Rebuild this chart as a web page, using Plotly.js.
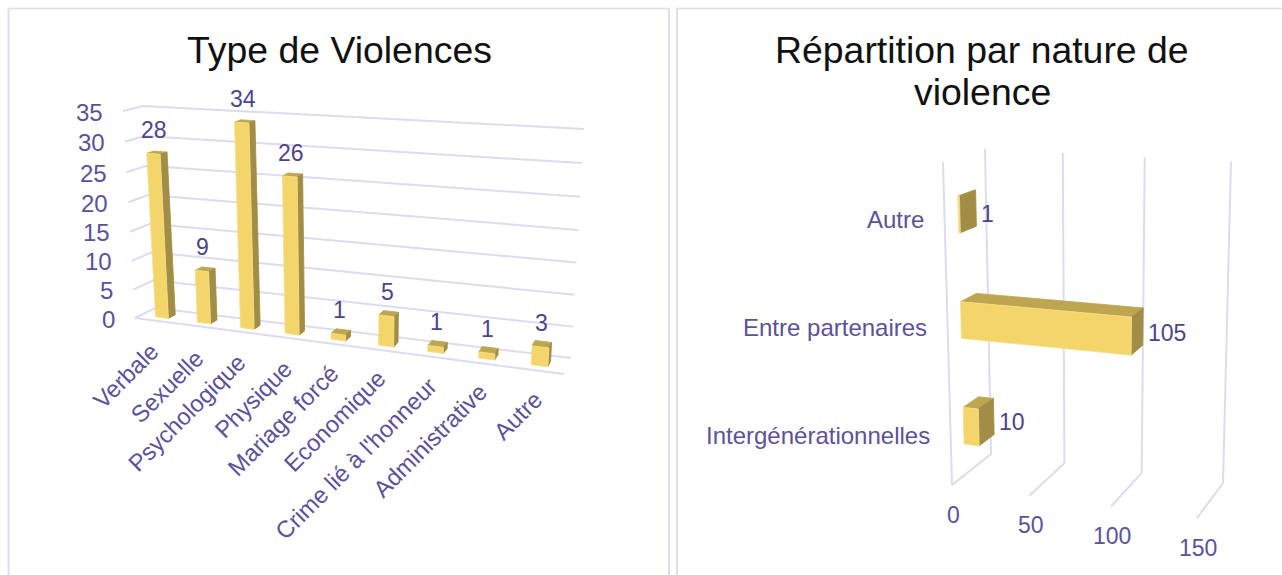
<!DOCTYPE html>
<html>
<head>
<meta charset="utf-8">
<script src="https://cdn.plot.ly/plotly-3.0.1.min.js"></script>
<style>html,body{margin:0;padding:0;background:#fff;overflow:hidden}#chart{width:1282px;height:575px}</style>
</head>
<body>
<div id="chart"></div>
<script>
// ---- data ----
const violenceTitle = "Type de Violences";
const violenceCategories = ["Verbale","Sexuelle","Psychologique","Physique","Mariage forcé","Economique","Crime lié à l'honneur","Administrative","Autre"];
const violenceValues = [28,9,34,26,1,5,1,1,3];
const violenceTicks = [0,5,10,15,20,25,30,35];
const violenceMax = 35;

const natureTitleLines = ["Répartition par nature de","violence"];
const natureCategories = ["Intergénérationnelles","Entre partenaires","Autre"];
const natureValues = [10,105,1];
const natureTicks = [0,50,100,150];
const natureMax = 150;

// ---- style ----
const GRID = "#DDDBEF", TICK = "#5B5299", LABEL = "#4C4489", TITLE = "#111111";
const FRONT = "#F4D569", SIDE = "#A18D46", TOP = "#BEA650";
const FONT = "Liberation Sans, Arial, sans-serif";

// ---- perspective boxes: a = along the value/category run, h = height, d = depth ----
function box(c){ return function(a,h0,d){
  const ta = a/(a + c.k*(1-a));
  const h = h0/(h0 + c.hk*(1-h0));
  const mix=(p,q,t)=>[p[0]+(q[0]-p[0])*t,p[1]+(q[1]-p[1])*t];
  const f=mix(mix(c.f00,c.f10,ta),mix(c.f01,c.f11,ta),h);
  const b=mix(mix(c.b00,c.b10,ta),mix(c.b01,c.b11,ta),h);
  return mix(f,b,d);
};}
// first digit index: a (0 left,1 right); second: h (0 floor,1 top)
const boxLeft = box({k:1.16,hk:1.05,
  f00:[135,318],f10:[564,374],f01:[123,111],f11:[577,140],
  b00:[155,308],b10:[571,358],b01:[143,106],b11:[584,129]});
const boxRight = box({k:1.08,hk:1,
  f00:[952,485],f10:[1197,518],f01:[943,162],f11:[1207,178],
  b00:[991,454],b10:[1223,483],b01:[985,149],b11:[1231,162]});

function poly(list){ const xs=[],ys=[];
  list.forEach(pts=>{pts.forEach(p=>{xs.push(p[0]);ys.push(p[1]);});xs.push(pts[0][0]);ys.push(pts[0][1]);xs.push(null);ys.push(null);});
  return [xs,ys]; }
function faceTrace(name,list,color,edge){ const [x,y]=poly(list);
  return {type:"scatter",mode:"lines",name,x,y,fill:"toself",fillcolor:color,line:{color:edge,width:0.8},hoverinfo:"skip"}; }
function lineTrace(name,list){ const xs=[],ys=[];
  list.forEach(pts=>{pts.forEach(p=>{xs.push(p[0]);ys.push(p[1]);});xs.push(null);ys.push(null);});
  return {type:"scatter",mode:"lines",name,x:xs,y:ys,line:{color:GRID,width:2},hoverinfo:"skip"}; }
function ann(text,p,opts){ return Object.assign({text,x:p[0],y:p[1],xref:"x",yref:"y",showarrow:false,xanchor:"center",yanchor:"middle",
  font:{family:FONT,size:23,color:LABEL}},opts||{}); }

const traces=[], annotations=[];

// ---- left chart: vertical bars ----
(function(){
  const P=boxLeft, grid=[];
  violenceTicks.forEach(v=>{ const h=v/violenceMax;
    grid.push([P(0,h,0),P(0,h,1),P(1,h,1)]);
    annotations.push(ann(String(v),P(0,h,0),{xanchor:"right",xshift:-18,yshift:-1,font:{family:FONT,size:24,color:TICK}}));
  });
  grid.push([P(0,0,0),P(1,0,0)]);
  traces.push(lineTrace("grid violences",grid));
  const tops=[],sides=[],fronts=[];
  const d0=0.3,d1=0.66,w=0.0345;
  violenceValues.forEach((v,i)=>{ const a0=(i+0.355)/violenceCategories.length,a1=a0+w,h=v/violenceMax;
    fronts.push([P(a0,0,d0),P(a1,0,d0),P(a1,h,d0),P(a0,h,d0)]);
    sides.push([P(a1,0,d0),P(a1,0,d1),P(a1,h,d1),P(a1,h,d0)]);
    tops.push([P(a0,h,d0),P(a1,h,d0),P(a1,h,d1),P(a0,h,d1)]);
    annotations.push(ann(String(v),P(a0+w/2,h,d0),{xshift:1,yshift:24}));
  });
  traces.push(faceTrace("top violences",tops,TOP,TOP));
  traces.push(faceTrace("side violences",sides,SIDE,SIDE));
  traces.push(faceTrace("front violences",fronts,FRONT,"#F8E08E"));
  const centers=[[126,376],[167,387],[187,413],[253,400],[283,421],[335,421],[356,459],[430,441],[518,416]];
  violenceCategories.forEach((c,i)=>{ annotations.push(ann(c,centers[i],{textangle:-45,font:{family:FONT,size:23.7,color:TICK}})); });
  annotations.push(ann(violenceTitle,[339,50],{font:{family:FONT,size:37.4,color:TITLE}}));
})();

// ---- right chart: horizontal bars ----
(function(){
  const P=boxRight, grid=[];
  natureTicks.forEach(v=>{ const a=v/natureMax;
    grid.push([P(a,0,0),P(a,0,1),P(a,1,1)]);
    annotations.push(ann(String(v),P(a,0,0),{xshift:1,yshift:-30,font:{family:FONT,size:23,color:TICK}}));
  });
  grid.push([P(0,1,0),P(0,0,0)]);
  traces.push(lineTrace("grid nature",grid));
  const tops=[],sides=[],fronts=[];
  const d0=0.33,d1=0.72,hw=0.058;
  natureValues.forEach((v,i)=>{ const mid=(i+0.5)/natureCategories.length-0.012,h0=mid-hw,h1=mid+hw,a=v/natureMax;
    fronts.push([P(0,h0,d0),P(a,h0,d0),P(a,h1,d0),P(0,h1,d0)]);
    sides.push([P(a,h0,d0),P(a,h0,d1),P(a,h1,d1),P(a,h1,d0)]);
    tops.push([P(0,h1,d0),P(a,h1,d0),P(a,h1,d1),P(0,h1,d1)]);
    annotations.push(ann(String(v),P(a,mid,d1),{xanchor:"left",xshift:3,yshift:-6,font:{family:FONT,size:23,color:LABEL}}));
    annotations.push(ann(natureCategories[i],P(0,mid,0),{xanchor:"right",xshift:-19,yshift:0,font:{family:FONT,size:24,color:TICK}}));
  });
  traces.push(faceTrace("top nature",tops,TOP,TOP));
  traces.push(faceTrace("side nature",sides,SIDE,SIDE));
  traces.push(faceTrace("front nature",fronts,FRONT,"#F8E08E"));
  natureTitleLines.forEach((t,i)=>{ annotations.push(ann(t,[982,50+42*i],{font:{family:FONT,size:37.4,color:TITLE}})); });
})();

const frame=(x0,y0,x1,y1,w)=>({type:"line",xref:"x",yref:"y",x0,y0,x1,y1,line:{color:"#DFDCF1",width:w},layer:"below"});
const layout={
  width:1282,height:575,margin:{l:0,r:0,t:0,b:0},showlegend:false,paper_bgcolor:"#fff",plot_bgcolor:"#fff",
  xaxis:{range:[0,1282],visible:false,fixedrange:true},
  yaxis:{range:[575,0],visible:false,fixedrange:true},
  annotations,
  shapes:[frame(8.5,575,8.5,8.5,2),frame(8.5,8.5,669,8.5,1.5),frame(669,8.5,669,575,2),frame(677,575,677,8.5,2),frame(677,8.5,1282,8.5,1.5)]
};
Plotly.newPlot("chart",traces,layout,{staticPlot:true,displayModeBar:false});
</script>
</body>
</html>
